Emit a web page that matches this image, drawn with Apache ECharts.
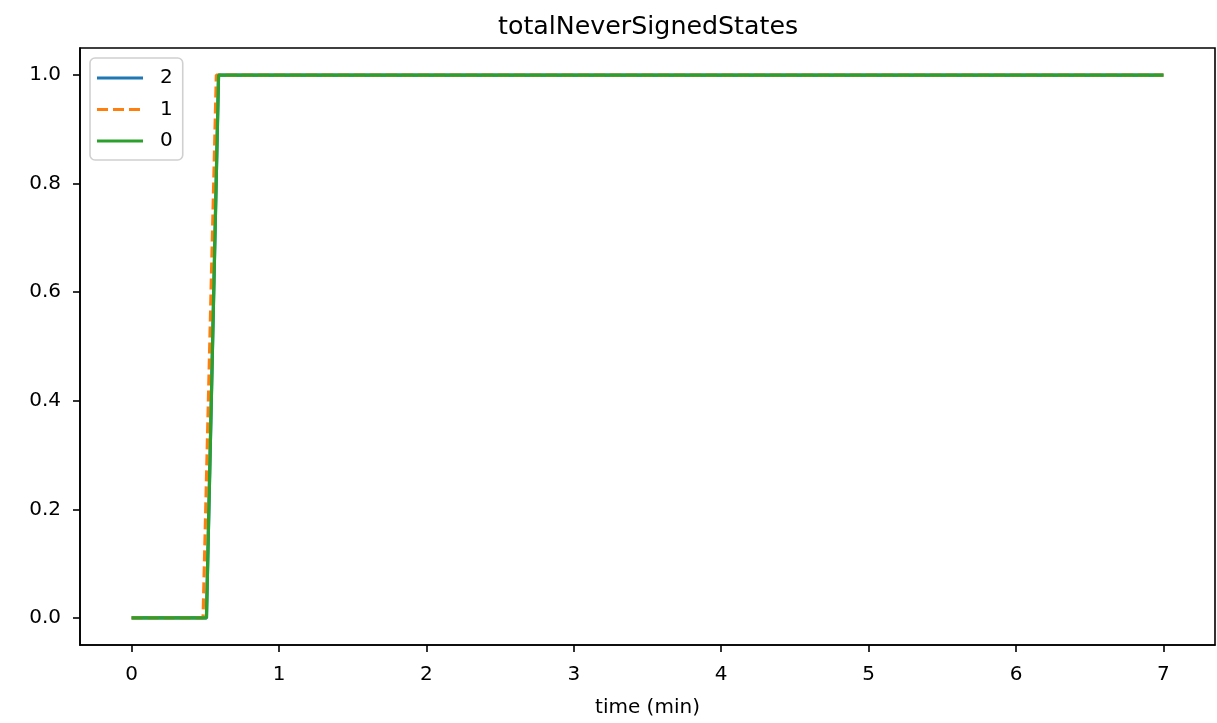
<!DOCTYPE html>
<html>
<head>
<meta charset="utf-8">
<script src="https://cdn.jsdelivr.net/npm/echarts@6/dist/echarts.min.js"></script>
<style>html,body{margin:0;padding:0;background:#fff}#c{width:1217px;height:723px}</style>
</head>
<body>
<div id="c"></div>
<script>
const titleText = 'totalNeverSignedStates';
const xName = 'time (min)';
const seriesNames = ['2', '1', '0'];
const xTicks = [0, 1, 2, 3, 4, 5, 6, 7];
const yTicks = [0, 0.2, 0.4, 0.6, 0.8, 1.0];
const s2x = [0, 0.508, 0.59, 7];
const s2y = [0, 0, 1, 1];
const s1x = [0, 0.485, 0.575, 7];
const s1y = [0, 0, 1, 1];
const s0x = [0, 0.508, 0.59, 7];
const s0y = [0, 0, 1, 1];

const colors = ['#1f77b4', '#ff7f0e', '#2ca02c'];
const F = 'DejaVu Sans';
const zip = (xs, ys) => xs.map((x, i) => [x, ys[i]]);
const solidIcon = 'path://M0,0H46V3H0Z';
const dashIcon = 'path://M0,0H11V3H0Z M16,0H27V3H16Z M32,0H43V3H32Z M46,0H46.01V3H46Z';

const axisLineStyle = { color: '#000', width: 1.6 };
const chart = echarts.init(document.getElementById('c'));
chart.setOption({
  animation: false,
  backgroundColor: '#fff',
  textStyle: { fontFamily: F },
  title: {
    text: titleText, left: 493, top: 10,
    textStyle: { fontFamily: F, fontSize: 25.3, fontWeight: 'normal', color: '#000' }
  },
  grid: { left: 80, right: 2, top: 48, bottom: 76, show: true, borderColor: '#000', borderWidth: 1.6, containLabel: false },
  legend: {
    orient: 'vertical', left: 90, top: 58,
    data: [
      { name: seriesNames[0], icon: solidIcon },
      { name: seriesNames[1], icon: dashIcon },
      { name: seriesNames[2], icon: solidIcon }
    ],
    itemWidth: 46, itemHeight: 3, itemGap: 11.5,
    padding: [10, 10, 9, 7],
    backgroundColor: '#fff', borderColor: '#d0d0d0', borderWidth: 1.6, borderRadius: 5,
    textStyle: { fontFamily: F, fontSize: 20, color: '#000', padding: [0, 0, 0, 12] }
  },
  xAxis: {
    type: 'value', min: -0.35, max: 7.35,
    name: xName, nameLocation: 'middle', nameGap: 53,
    nameTextStyle: { fontFamily: F, fontSize: 20, color: '#000' },
    splitLine: { show: false },
    axisLine: { show: true, onZero: false, lineStyle: axisLineStyle },
    axisTick: { show: true, length: 7, lineStyle: axisLineStyle, customValues: xTicks },
    axisLabel: { fontFamily: F, fontSize: 20, color: '#000', margin: 20, customValues: xTicks, formatter: v => String(v) }
  },
  yAxis: {
    type: 'value', min: -0.05, max: 1.05,
    splitLine: { show: false },
    axisLine: { show: true, onZero: false, lineStyle: axisLineStyle },
    axisTick: { show: true, length: 7, lineStyle: axisLineStyle, customValues: yTicks },
    axisLabel: { fontFamily: F, fontSize: 20, color: '#000', margin: 19, customValues: yTicks, formatter: v => v.toFixed(1) }
  },
  series: [
    { name: seriesNames[0], type: 'line', data: zip(s2x, s2y), symbol: 'none', color: colors[0], lineStyle: { width: 3.2, color: colors[0] }, z: 2 },
    { name: seriesNames[1], type: 'line', data: zip(s1x, s1y), symbol: 'none', color: colors[1], lineStyle: { width: 3.2, color: colors[1], type: [11, 5] }, z: 3 },
    { name: seriesNames[2], type: 'line', data: zip(s0x, s0y), symbol: 'none', color: colors[2], lineStyle: { width: 3.2, color: colors[2] }, z: 4 }
  ]
});
</script>
</body>
</html>
